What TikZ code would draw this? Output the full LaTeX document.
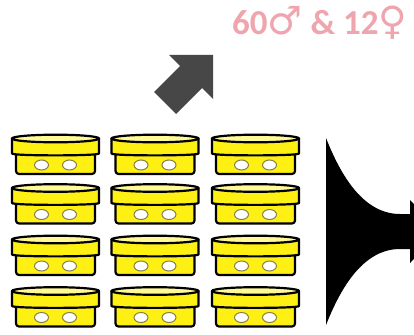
\documentclass[tikz,border=0pt]{standalone}
\usepackage{fontspec}
\setmainfont{Carlito}
\newfontfamily\gendersym{DejaVu Sans}
\usetikzlibrary{positioning}

\definecolor{cupyellow}{RGB}{255,240,20}
\definecolor{cuptop}{RGB}{255,250,150}
\definecolor{arrowgray}{RGB}{71,71,71}
\definecolor{countpink}{RGB}{238,165,174}

\tikzset{
  cupline/.style={draw=black, line width=2.2pt, line join=round},
  holeline/.style={draw=black!55!yellow, line width=1pt, fill=white},
  countlabel/.style={text=countpink, font=\fontsize{35}{40}\selectfont\bfseries, inner sep=0pt},
  cup/.pic={
    % body under the lid
    \draw[cupline, fill=cupyellow, rounded corners=3pt] (-39.5,15) -- (-39.5,35.5) -- (39.5,35.5) -- (39.5,15);
    % lid rim
    \draw[cupline, fill=cupyellow] (-43.5,0) -- (-43.5,15) .. controls (-43.5,17.5) and (43.5,17.5) .. (43.5,15) -- (43.5,0) -- cycle;
    % lid top
    \draw[cupline, fill=cuptop] (0,0) ellipse (43.5 and 3.8);
    % air holes
    \draw[holeline] (-14,26.5) ellipse (7 and 5);
    \draw[holeline] (14,26.5) ellipse (7 and 5);
  }
}

\begin{document}
\begin{tikzpicture}[x=1pt, y=-1pt]
  \clip (0,0) rectangle (414,334);
  \fill[white] (0,0) rectangle (414,334);

  % 3 x 4 cups
  \foreach \cx in {55.5,155,255.5}
    \foreach \cy in {138.5,188,239.5,291}
      \pic at (\cx,\cy) {cup};

  % sorted flies
  \node[countlabel, anchor=base west] (count) at (232,35)
    {60{\gendersym\mdseries\fontsize{39}{40}\selectfont ♂} \& 12{\gendersym\mdseries\fontsize{39}{40}\selectfont ♀}};

  % block arrow up to the count
  \fill[arrowgray] (213,55) -- (213,99) -- (202,88) -- (176,114)
    -- (154,92) -- (180,66) -- (169,55) -- cycle;

  % funnel into the next step
  \fill[black] (326,138) .. controls (338,168) and (360,214) .. (400,214)
    -- (410,214) -- (410,200) -- (441,231.5) -- (410,263) -- (410,249) -- (400,249)
    .. controls (360,249) and (338,295) .. (326,325) -- cycle;
\end{tikzpicture}
\end{document}
